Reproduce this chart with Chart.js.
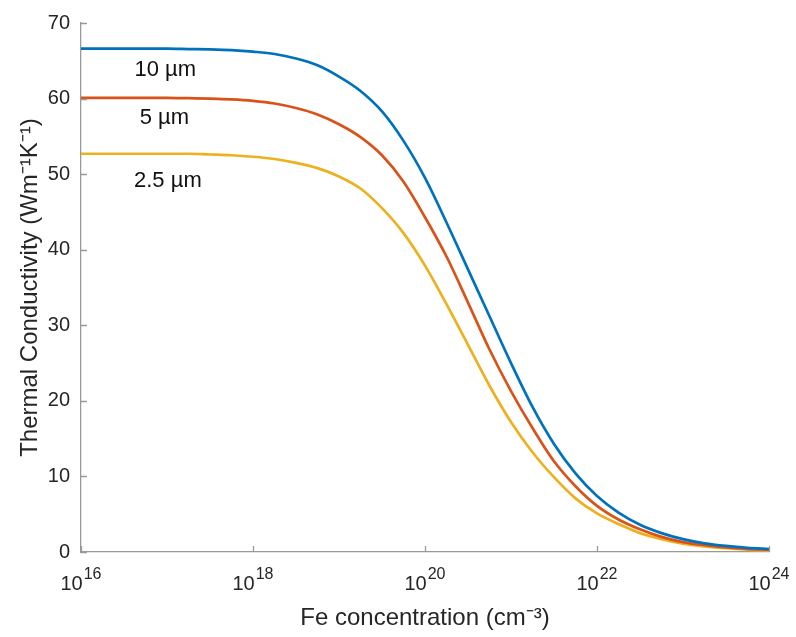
<!DOCTYPE html>
<html>
<head>
<meta charset="utf-8">
<script src="https://cdn.jsdelivr.net/npm/chart.js@4.4.1/dist/chart.umd.min.js"></script>
<style>
  html, body { margin: 0; padding: 0; background: #ffffff; }
  #wrap { width: 796px; height: 637px; position: relative; }
</style>
</head>
<body>
<div id="wrap"><canvas id="c" width="796" height="637"></canvas></div>
<script>
// Fe concentration, as powers of ten (cm^-3)
const concExponents = [16, 16.25, 16.5, 16.75, 17, 17.25, 17.5, 17.75, 18, 18.25, 18.5, 18.75, 19, 19.25, 19.5, 19.75, 20, 20.25, 20.5, 20.75, 21, 21.25, 21.5, 21.75, 22, 22.25, 22.5, 22.75, 23, 23.25, 23.5, 23.75, 24];
// Thermal conductivity (W m^-1 K^-1)
const k10um = [66.6, 66.6, 66.6, 66.6, 66.6, 66.55, 66.5, 66.4, 66.2, 65.9, 65.3, 64.4, 62.9, 61.0, 58.3, 54.4, 49.5, 43.6, 37.4, 31.2, 25.0, 19.2, 14.3, 10.4, 7.4, 5.2, 3.6, 2.5, 1.7, 1.15, 0.8, 0.55, 0.4];
const k5um  = [60.1, 60.1, 60.1, 60.1, 60.1, 60.05, 60.0, 59.9, 59.7, 59.35, 58.75, 57.9, 56.6, 54.9, 52.5, 49.0, 44.3, 39.1, 33.0, 26.8, 21.3, 16.4, 12.0, 8.7, 6.1, 4.3, 3.0, 2.0, 1.3, 0.9, 0.6, 0.42, 0.3];
const k25um = [52.7, 52.7, 52.7, 52.7, 52.7, 52.7, 52.6, 52.5, 52.3, 52.0, 51.5, 50.8, 49.7, 48.1, 45.5, 42.2, 37.9, 32.8, 27.4, 22.0, 17.2, 13.2, 9.9, 7.1, 5.1, 3.7, 2.5, 1.7, 1.1, 0.75, 0.5, 0.32, 0.2];
const seriesNames = ['10 µm', '5 µm', '2.5 µm'];
// annotation anchor positions (exponent, conductivity)
const labelX = [16.98, 16.97, 17.01];
const labelY = [63.8, 57.4, 49.1];
const xTicks = [16, 18, 20, 22, 24];
const yTicks = [0, 10, 20, 30, 40, 50, 60, 70];

const colors = ['#0072BD', '#D95319', '#EDB120'];
const axisColor = '#999999';
const textColor = '#262626';
const FONT = '"Liberation Sans", Arial, Helvetica, sans-serif';

function pts(ys) { return concExponents.map((e, i) => ({ x: e, y: ys[i] })); }

const inwardTicks = {
  id: 'inwardTicks',
  afterDatasetsDraw(chart) {
    const { ctx, scales: { x, y }, chartArea } = chart;
    ctx.save();
    ctx.strokeStyle = axisColor;
    ctx.lineWidth = 1.3;
    ctx.beginPath();
    yTicks.forEach(v => {
      const py = Math.round(y.getPixelForValue(v)) + 0.5;
      ctx.moveTo(chartArea.left, py);
      ctx.lineTo(chartArea.left + 6, py);
    });
    xTicks.forEach(v => {
      const px = Math.round(x.getPixelForValue(v)) + 0.5;
      ctx.moveTo(px, chartArea.bottom);
      ctx.lineTo(px, chartArea.bottom - 6);
    });
    ctx.stroke();
    // x tick labels: 10 with superscript exponent
    ctx.fillStyle = textColor;
    ctx.textBaseline = 'alphabetic';
    ctx.textAlign = 'left';
    xTicks.forEach(v => {
      const px = x.getPixelForValue(v);
      ctx.font = '20px ' + FONT;
      const base = '10';
      const wb = ctx.measureText(base).width;
      ctx.font = '16px ' + FONT;
      const ex = String(v);
      const we = ctx.measureText(ex).width;
      const total = wb + 1 + we;
      const left = px - total / 2;
      const baseY = chartArea.bottom + 38;
      ctx.font = '20px ' + FONT;
      ctx.fillText(base, left, baseY);
      ctx.font = '16px ' + FONT;
      ctx.fillText(ex, left + wb + 1, baseY - 11);
    });
    // series annotations
    ctx.fillStyle = '#111111';
    ctx.textAlign = 'center';
    ctx.textBaseline = 'middle';
    ctx.font = '22px ' + FONT;
    seriesNames.forEach((n, i) => {
      ctx.fillText(n, x.getPixelForValue(labelX[i]), y.getPixelForValue(labelY[i]));
    });
    ctx.restore();
  }
};

new Chart(document.getElementById('c'), {
  type: 'line',
  data: {
    datasets: [
      { label: seriesNames[0], data: pts(k10um), borderColor: colors[0] },
      { label: seriesNames[1], data: pts(k5um), borderColor: colors[1] },
      { label: seriesNames[2], data: pts(k25um), borderColor: colors[2] }
    ].map(d => Object.assign(d, { borderWidth: 2.7, pointRadius: 0, fill: false,
      cubicInterpolationMode: 'monotone', clip: { left: 0, right: 0, top: 5, bottom: 5 } }))
  },
  options: {
    responsive: false,
    animation: false,
    layout: { padding: { top: 15, right: 27, left: 0, bottom: 0 } },
    plugins: { legend: { display: false }, tooltip: { enabled: false } },
    scales: {
      x: {
        type: 'linear', min: 16, max: 24,
        afterBuildTicks: s => { s.ticks = xTicks.map(v => ({ value: v })); },
        afterFit: s => { s.height = 85; },
        grid: { display: false, drawTicks: false },
        border: { display: true, color: axisColor, width: 1.3 },
        ticks: { display: false },
        title: { display: true, text: 'Fe concentration (cm⁻³)', color: textColor,
                 font: { family: FONT, size: 24 }, padding: { top: 0, bottom: 4 } }
      },
      y: {
        type: 'linear', min: 0, max: 70,
        afterBuildTicks: s => { s.ticks = yTicks.map(v => ({ value: v })); },
        afterFit: s => { s.width = 81; },
        grid: { display: false, drawTicks: false },
        border: { display: true, color: axisColor, width: 1.3 },
        ticks: { color: textColor, padding: 11, font: { family: FONT, size: 20 } },
        title: { display: true, text: 'Thermal Conductivity (Wm⁻¹K⁻¹)', color: textColor,
                 font: { family: FONT, size: 24 }, padding: { top: 16, bottom: 0 } }
      }
    }
  },
  plugins: [inwardTicks]
});
</script>
</body>
</html>
